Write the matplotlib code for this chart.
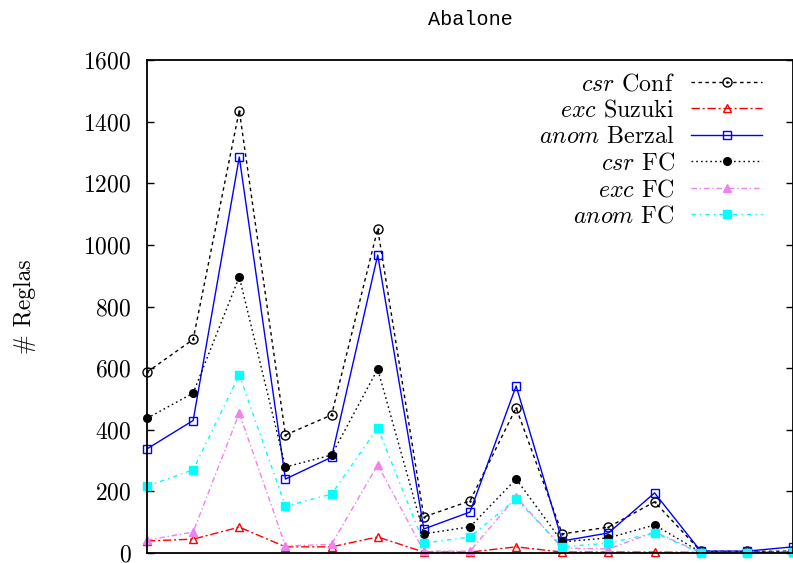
import matplotlib
matplotlib.use("Agg")
import matplotlib.pyplot as plt
from matplotlib.path import Path
import numpy as np

plt.rcParams['font.family'] = ['cmr10', 'DejaVu Serif']
plt.rcParams['mathtext.fontset'] = 'cm'
plt.rcParams['axes.formatter.use_mathtext'] = True

# datos (15 puntos por serie)
x = np.arange(15)
csr_conf   = [587, 693, 1436, 383, 448, 1052, 117, 169, 471, 62, 84, 166, 6, 5, 6]
exc_suzuki = [39, 45, 84, 20, 20, 52, 3, 3, 20, 3, 3, 3, 2, 2, 2]
anom_berz  = [338, 430, 1285, 240, 311, 967, 78, 133, 542, 39, 65, 195, 6, 6, 20]
csr_fc     = [437, 519, 896, 279, 318, 597, 62, 85, 240, 36, 49, 91, 3, 3, 3]
exc_fc     = [42, 68, 454, 23, 28, 286, 6, 6, 182, 16, 13, 68, 2, 2, 2]
anom_fc    = [217, 270, 578, 152, 191, 406, 32, 52, 175, 20, 32, 65, 0, 0, 2]

labels = [r'$csr$ Conf', r'$exc$ Suzuki', r'$anom$ Berzal',
          r'$csr$ FC', r'$exc$ FC', r'$anom$ FC']
yticks = [0, 200, 400, 600, 800, 1000, 1200, 1400, 1600]

# circulo con punto central (estilo gnuplot)
odot = Path.make_compound_path(Path.unit_circle(), Path.circle((0, 0), 0.12))

fig = plt.figure(figsize=(7.93, 5.63), dpi=100)
ax = fig.add_axes([147/793, 10/563, 646/793, 493/563])

kw = dict(lw=1.0, clip_on=False)
ax.plot(x, csr_conf, color='black', ls=(0, (2.5, 2.5)), marker=odot, ms=6.5,
        mfc='none', mew=1.0, label=labels[0], **kw)
ax.plot(x, exc_suzuki, color='red', ls=(0, (6, 2, 1.5, 2)), marker='^', ms=6,
        mfc='none', mew=1.0, label=labels[1], **kw)
ax.plot(x, anom_berz, color='blue', ls='-', marker='s', ms=6,
        mfc='none', mew=1.0, label=labels[2], **kw)
ax.plot(x, csr_fc, color='black', ls=(0, (1.2, 2.2)), marker='o', ms=5.5,
        label=labels[3], **kw)
ax.plot(x, exc_fc, color='violet', ls=(0, (4, 2, 1, 2)), marker='^', ms=5.5,
        label=labels[4], **kw)
ax.plot(x, anom_fc, color='cyan', ls=(0, (3, 3, 1, 3)), marker='s', ms=5.5,
        label=labels[5], **kw)

ax.set_xlim(0, 14)
ax.set_ylim(0, 1600)
ax.set_xticks([])
ax.set_yticks(yticks)
ax.tick_params(axis='y', direction='in', length=5, width=1.0, right=True,
               labelsize=17, pad=11)
for s in ax.spines.values():
    s.set_linewidth(1.3)

ax.set_title('Abalone', family='Liberation Mono', fontsize=14.5, pad=25)
ax.set_ylabel('# Reglas', fontsize=17)
ax.yaxis.set_label_coords(-0.172, 0.5)

# markerfirst=False: textos alineados a la derecha, muestra a la derecha
ax.legend(loc='upper right', bbox_to_anchor=((762-147)/646, 0.973),
          frameon=False, markerfirst=False, fontsize=17.3,
          handlelength=2.95, handletextpad=0.68, labelspacing=0.18,
          borderpad=0, borderaxespad=0)

fig.savefig('out.png', dpi=100)
